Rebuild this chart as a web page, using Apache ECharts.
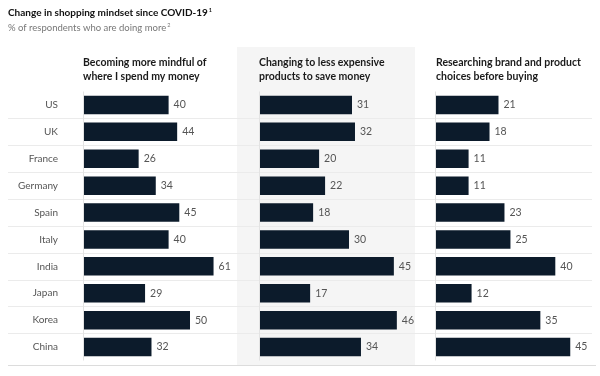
<!DOCTYPE html>
<html>
<head>
<meta charset="utf-8">
<script src="https://cdn.jsdelivr.net/npm/echarts@6/dist/echarts.min.js"></script>
<style>html,body{margin:0;padding:0;background:#fff}#c{width:600px;height:376px}</style>
</head>
<body>
<div id="c"></div>
<script>
const categories = ['US','UK','France','Germany','Spain','Italy','India','Japan','Korea','China'];
const mindful = [40,44,26,34,45,40,61,29,50,32];
const cheaper = [31,32,20,22,18,30,45,17,46,34];
const research = [21,18,11,11,23,25,40,12,35,45];
const headers = ['Becoming more mindful of\nwhere I spend my money','Changing to less expensive\nproducts to save money','Researching brand and product\nchoices before buying'];
const titleText = 'Change in shopping mindset since COVID-19';
const subtitleText = '% of respondents who are doing more';

const FONT = 'Lato, "Liberation Sans", sans-serif';
const barColor = '#0c1b2b';
const grids = [
  {left:8, width:229, min:-35.05, max:71.96, data:mindful, hx:83},
  {left:237, width:178, min:-7.46, max:52.07, data:cheaper, hx:259},
  {left:415, width:177, min:-6.92, max:52.27, data:research, hx:436}
];
const chart = echarts.init(document.getElementById('c'));
const option = {
  animation:false,
  textStyle:{fontFamily:FONT},
  title:[
    {left:8, top:8, padding:0, text:titleText+'{s|1}', textStyle:{fontFamily:FONT,fontSize:10,fontWeight:'bold',color:'#111',rich:{s:{fontFamily:FONT,fontSize:5.5,lineHeight:6,color:'#111',fontWeight:'bold',padding:[0,0,6,1]}}}},
    {left:8, top:23, padding:0, text:subtitleText+'{s|2}', textStyle:{fontFamily:FONT,fontSize:9.5,fontWeight:'normal',color:'#777',rich:{s:{fontFamily:FONT,fontSize:5.5,lineHeight:6,color:'#777',padding:[0,0,6,1]}}}}
  ].concat(grids.map((g,i)=>({left:g.hx, top:56, padding:0, text:headers[i], textStyle:{fontFamily:FONT,fontSize:10.5,fontWeight:'bold',color:'#1a1a1a',lineHeight:14}}))),
  graphic:[
    {type:'rect', z:-10, shape:{x:237,y:47,width:178,height:318}, style:{fill:'#f5f5f5'}},
    {type:'line', z:-5, shape:{x1:8,y1:365.5,x2:596,y2:365.5}, style:{stroke:'#dcdcdc',lineWidth:1}}
  ],
  grid: grids.map(g=>({left:g.left, width:g.width, top:91.5, height:269, outerBoundsMode:'none', containLabel:false})),
  xAxis: grids.map((g,i)=>({type:'value', gridIndex:i, min:g.min, max:g.max, show:false})),
  yAxis: grids.map((g,i)=>({
    type:'category', gridIndex:i, data:categories, inverse:true,
    axisLine:{show:false},
    axisTick:{show:false},
    axisLabel:{show:i===0, inside:true, margin:50, align:'right', color:'#555', fontSize:10, fontFamily:FONT},
    splitLine:{show:true, showMinLine:false, showMaxLine:false, lineStyle:{color:'#ebebeb'}}
  })),
  series: grids.map((g,i)=>({
    type:'bar', xAxisIndex:i, yAxisIndex:i, data:g.data, barWidth:18.5,
    itemStyle:{color:barColor},
    label:{show:true, position:'right', distance:5, color:'#555', fontSize:10.5, fontFamily:FONT},
    markLine:{silent:true, symbol:'none', label:{show:false}, lineStyle:{color:'#e3e3e3', type:'solid', width:1}, data:[{xAxis:0}]}
  }))
};
chart.setOption(option);
</script>
</body>
</html>
